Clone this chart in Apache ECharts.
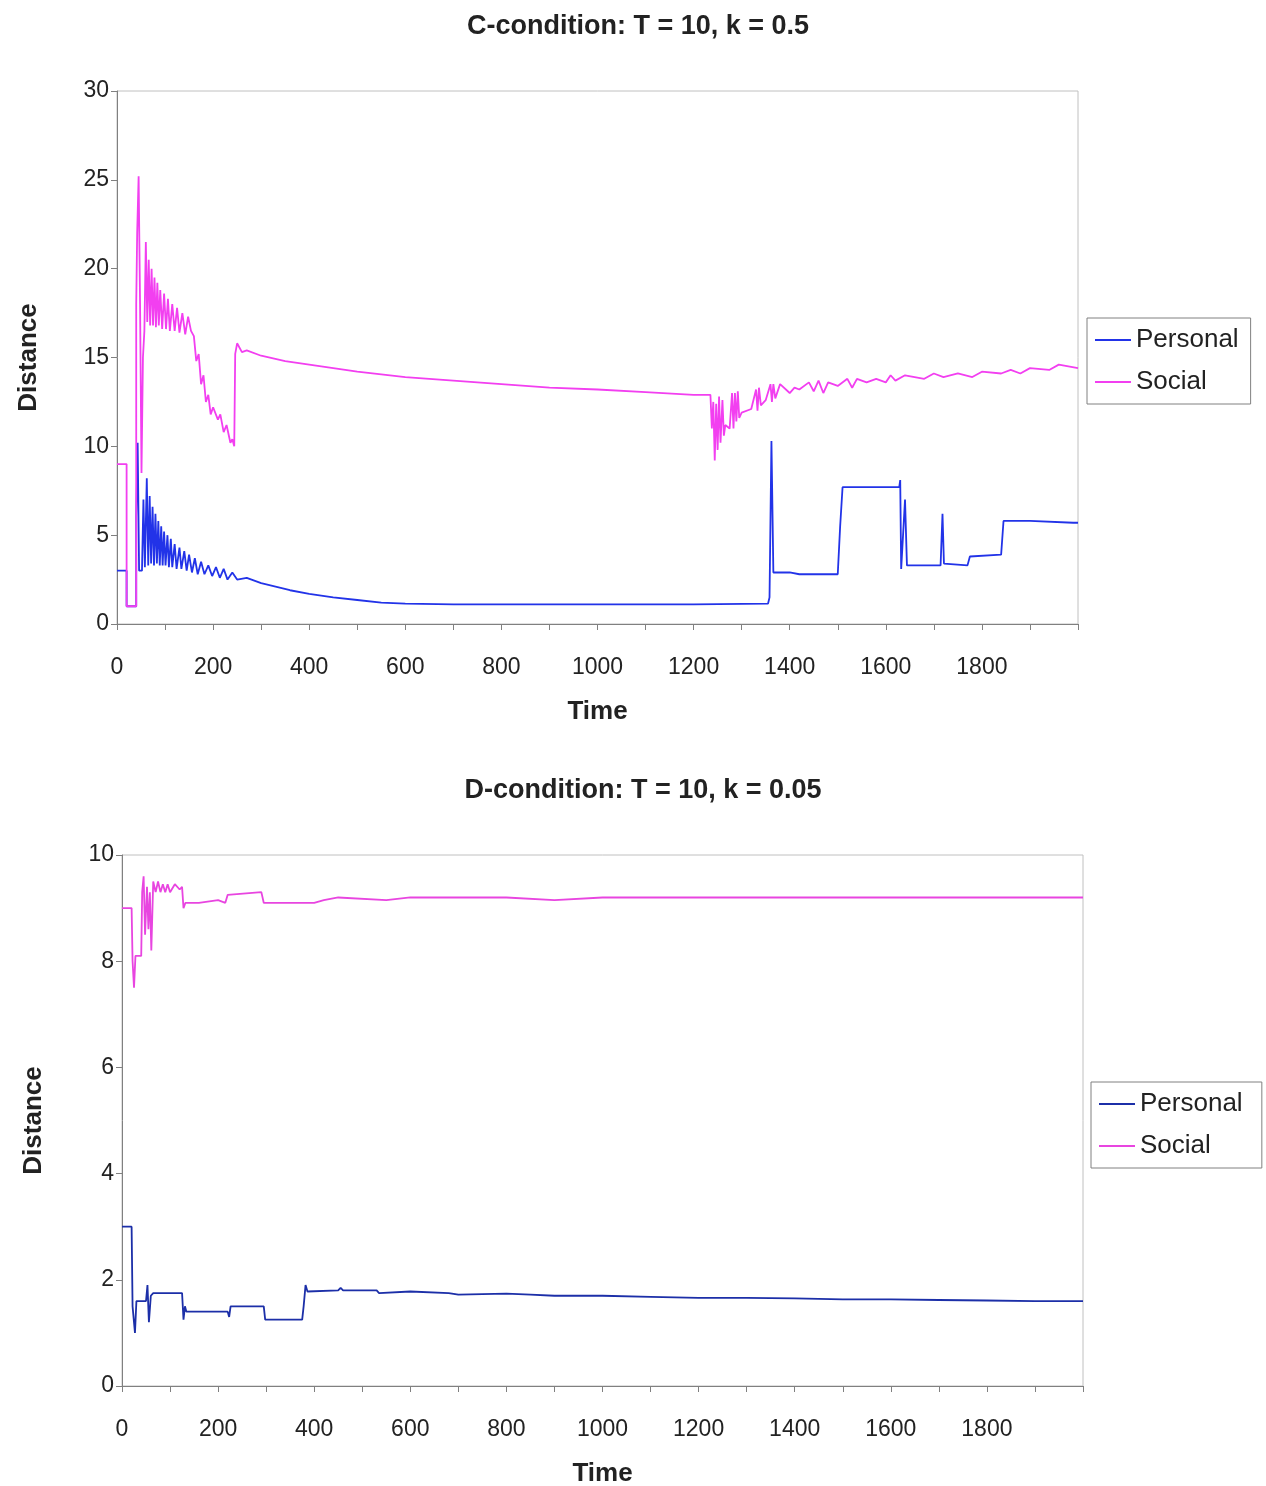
<!DOCTYPE html>
<html>
<head>
<meta charset="utf-8">
<script src="https://cdn.jsdelivr.net/npm/echarts@6/dist/echarts.min.js"></script>
<style>html,body{margin:0;padding:0;background:#fff}#c{width:1266px;height:1486px}</style>
</head>
<body>
<div id="c"></div>
<script>
// C-condition (top) — [time, distance]
const cPersonal = [
  [0,3],[20,3],[20,1],[40,1],[40,6],[43,10.2],[46,3],[52,3],[55,7],[58,3.2],[62,8.2],[65,3.3],[68,7.2],[71,3.4],[74,6.6],
  [77,3.3],[80,6.2],[83,3.4],[86,5.8],[89,3.3],[92,5.5],[95,3.3],[98,5.2],[101,3.3],[105,5],[108,3.2],[112,4.8],[115,3.2],
  [120,4.5],[124,3.1],[130,4.3],[134,3.1],[140,4.1],[145,3],[150,3.9],[156,2.9],[162,3.7],[168,2.8],[175,3.5],[182,2.8],
  [190,3.3],[198,2.7],[206,3.2],[214,2.6],[222,3.1],[230,2.5],[240,2.9],[250,2.5],[270,2.6],[300,2.3],[330,2.1],[360,1.9],
  [400,1.7],[450,1.5],[500,1.35],[550,1.2],[600,1.15],[700,1.1],[800,1.1],[1000,1.1],[1200,1.1],[1355,1.15],[1358,1.5],
  [1362,10.3],[1366,2.9],[1400,2.9],[1420,2.8],[1500,2.8],[1505,5.5],[1510,7.7],[1600,7.7],[1628,7.7],[1630,8.1],[1632,3.1],
  [1636,3.2],[1640,7],[1644,3.3],[1700,3.3],[1714,3.3],[1718,6.2],[1721,3.4],[1770,3.3],[1775,3.8],[1840,3.9],[1845,5.8],
  [1900,5.8],[1990,5.7],[2000,5.7]
];
const cSocial = [
  [0,9],[20,9],[20,1],[40,1],[40,18],[42,22],[45,25.2],[48,18],[51,8.5],[54,15],[57,16.5],[60,21.5],[63,17],[66,20.5],
  [69,16.8],[72,20],[75,16.8],[78,19.5],[81,16.7],[84,19.2],[87,16.8],[90,18.8],[94,16.6],[98,18.6],[102,16.6],[106,18.3],
  [110,16.5],[115,18],[120,16.5],[125,17.8],[130,16.4],[136,17.5],[142,16.3],[148,17.3],[154,16.5],[160,16.2],[165,14.8],
  [170,15.2],[175,13.5],[180,14],[185,12.5],[190,12.9],[195,11.8],[200,12.2],[210,11.5],[215,11.8],[222,10.8],[228,11.2],
  [236,10.2],[240,10.4],[244,10],[246,15.2],[250,15.8],[260,15.3],[270,15.4],[300,15.1],[350,14.8],[400,14.6],[450,14.4],
  [500,14.2],[600,13.9],[700,13.7],[800,13.5],[900,13.3],[1000,13.2],[1100,13.05],[1200,12.9],[1235,12.9],[1238,11],
  [1241,12.5],[1244,9.2],[1247,12.4],[1250,9.8],[1253,12.8],[1256,10.2],[1260,12.6],[1263,10.6],[1266,11.2],[1275,11],
  [1280,13],[1283,11],[1286,13],[1289,11.4],[1292,13.1],[1295,11.6],[1300,11.9],[1320,12.1],[1330,13.2],[1333,12],
  [1336,13.3],[1340,12.3],[1350,12.6],[1360,13.5],[1363,12.5],[1366,13.5],[1370,12.7],[1380,13.5],[1400,13],[1410,13.3],
  [1420,13.2],[1440,13.6],[1450,13.1],[1460,13.7],[1470,13],[1480,13.6],[1500,13.4],[1520,13.8],[1530,13.3],[1540,13.8],
  [1560,13.6],[1580,13.8],[1600,13.6],[1610,14],[1620,13.7],[1640,14],[1680,13.8],[1700,14.1],[1720,13.9],[1750,14.1],
  [1780,13.9],[1800,14.2],[1840,14.1],[1860,14.3],[1880,14.1],[1900,14.4],[1940,14.3],[1960,14.6],[1980,14.5],[2000,14.4]
];
// D-condition (bottom)
const dPersonal = [
  [0,3],[20,3],[22,1.5],[25,1.5],[27,1],[30,1.6],[50,1.6],[53,1.9],[56,1.2],[60,1.7],[65,1.75],[125,1.75],[128,1.25],
  [131,1.5],[134,1.4],[220,1.4],[223,1.3],[226,1.5],[295,1.5],[298,1.25],[375,1.25],[378,1.5],[382,1.9],[386,1.78],
  [450,1.8],[455,1.85],[460,1.8],[530,1.8],[535,1.75],[600,1.78],[680,1.75],[700,1.72],[800,1.74],[850,1.72],[900,1.7],
  [1000,1.7],[1100,1.68],[1200,1.66],[1300,1.66],[1400,1.65],[1500,1.63],[1600,1.63],[1700,1.62],[1800,1.61],
  [1900,1.6],[2000,1.6]
];
const dSocial = [
  [0,9],[20,9],[22,8],[25,7.5],[28,8.1],[40,8.1],[42,9.3],[45,9.6],[48,8.5],[52,9.4],[55,8.6],[58,9.3],[61,8.2],[65,9.5],
  [70,9.3],[75,9.5],[80,9.3],[85,9.45],[90,9.3],[95,9.45],[100,9.3],[110,9.45],[120,9.35],[125,9.4],[128,9],[132,9.1],
  [160,9.1],[200,9.15],[215,9.1],[220,9.25],[290,9.3],[295,9.1],[350,9.1],[400,9.1],[420,9.15],[450,9.2],[550,9.15],
  [600,9.2],[700,9.2],[800,9.2],[900,9.15],[1000,9.2],[1200,9.2],[1400,9.2],[1600,9.2],[1800,9.2],[2000,9.2]
];
const titles = ['C-condition: T = 10, k = 0.5', 'D-condition: T = 10, k = 0.05'];
const xLabels = [0,200,400,600,800,1000,1200,1400,1600,1800];

const chart = echarts.init(document.getElementById('c'));
const font = 'Liberation Sans, Arial, sans-serif';
const ax = (gi, max, interval) => ({
  gridIndex: gi, type: 'value', min: 0, max: max, interval: interval,
  axisLine: { show: true, lineStyle: { color: '#808080' } },
  axisTick: { show: true, inside: false, length: 6, lineStyle: { color: '#808080' } },
  splitLine: { show: false },
  axisLabel: { color: '#222', fontSize: 23, fontFamily: font, margin: 8 }
});
const xA = gi => Object.assign(ax(gi, 2000, 100), {
  name: 'Time', nameLocation: 'middle', nameGap: 75,
  nameTextStyle: { fontSize: 26, fontWeight: 'bold', color: '#222', fontFamily: font },
  axisLabel: { color: '#222', fontSize: 23, fontFamily: font, margin: 32,
    formatter: v => xLabels.includes(v) ? String(v) : '' }
});
const yA = (gi, max, iv) => Object.assign(ax(gi, max, iv), {
  name: 'Distance', nameLocation: 'middle', nameGap: 75,
  nameTextStyle: { fontSize: 26, fontWeight: 'bold', color: '#222', fontFamily: font }
});
const line = (name, data, gi, color) => ({
  name: name, type: 'line', data: data, xAxisIndex: gi, yAxisIndex: gi,
  showSymbol: false, lineStyle: { color: color, width: 1.8 }, itemStyle: { color: color }, animation: false
});
const legend = (top, gi) => ({
  orient: 'vertical', left: gi ? 1091 : 1087, top: top, itemWidth: 36, itemHeight: 2, itemGap: 16,
  padding: [9, 12, 9, 8], borderColor: '#808080', borderWidth: 1,
  textStyle: { fontSize: 26, color: '#222', fontFamily: font },
  icon: 'rect',
  data: gi ? ['Personal ', 'Social '] : ['Personal', 'Social']
});

chart.setOption({
  backgroundColor: '#fff',
  title: [
    { text: titles[0], left: 633, top: 8, textAlign: 'center', textStyle: { fontSize: 27, fontWeight: 'bold', color: '#222', fontFamily: font } },
    { text: titles[1], left: 638, top: 772, textAlign: 'center', textStyle: { fontSize: 27, fontWeight: 'bold', color: '#222', fontFamily: font } }
  ],
  grid: [
    { left: 117, top: 91, width: 961, height: 533, show: true, borderColor: '#c0c0c0', borderWidth: 1, containLabel: false, outerBoundsMode: 'none' },
    { left: 122, top: 855, width: 961, height: 531, show: true, borderColor: '#c0c0c0', borderWidth: 1, containLabel: false, outerBoundsMode: 'none' }
  ],
  legend: [legend(318, 0), legend(1082, 1)],
  xAxis: [xA(0), xA(1)],
  yAxis: [yA(0, 30, 5), yA(1, 10, 2)],
  series: [
    line('Personal', cPersonal, 0, '#2233e8'),
    line('Social', cSocial, 0, '#f23ff0'),
    line('Personal ', dPersonal, 1, '#1c2fa8'),
    line('Social ', dSocial, 1, '#e845e0')
  ]
});
</script>
</body>
</html>
